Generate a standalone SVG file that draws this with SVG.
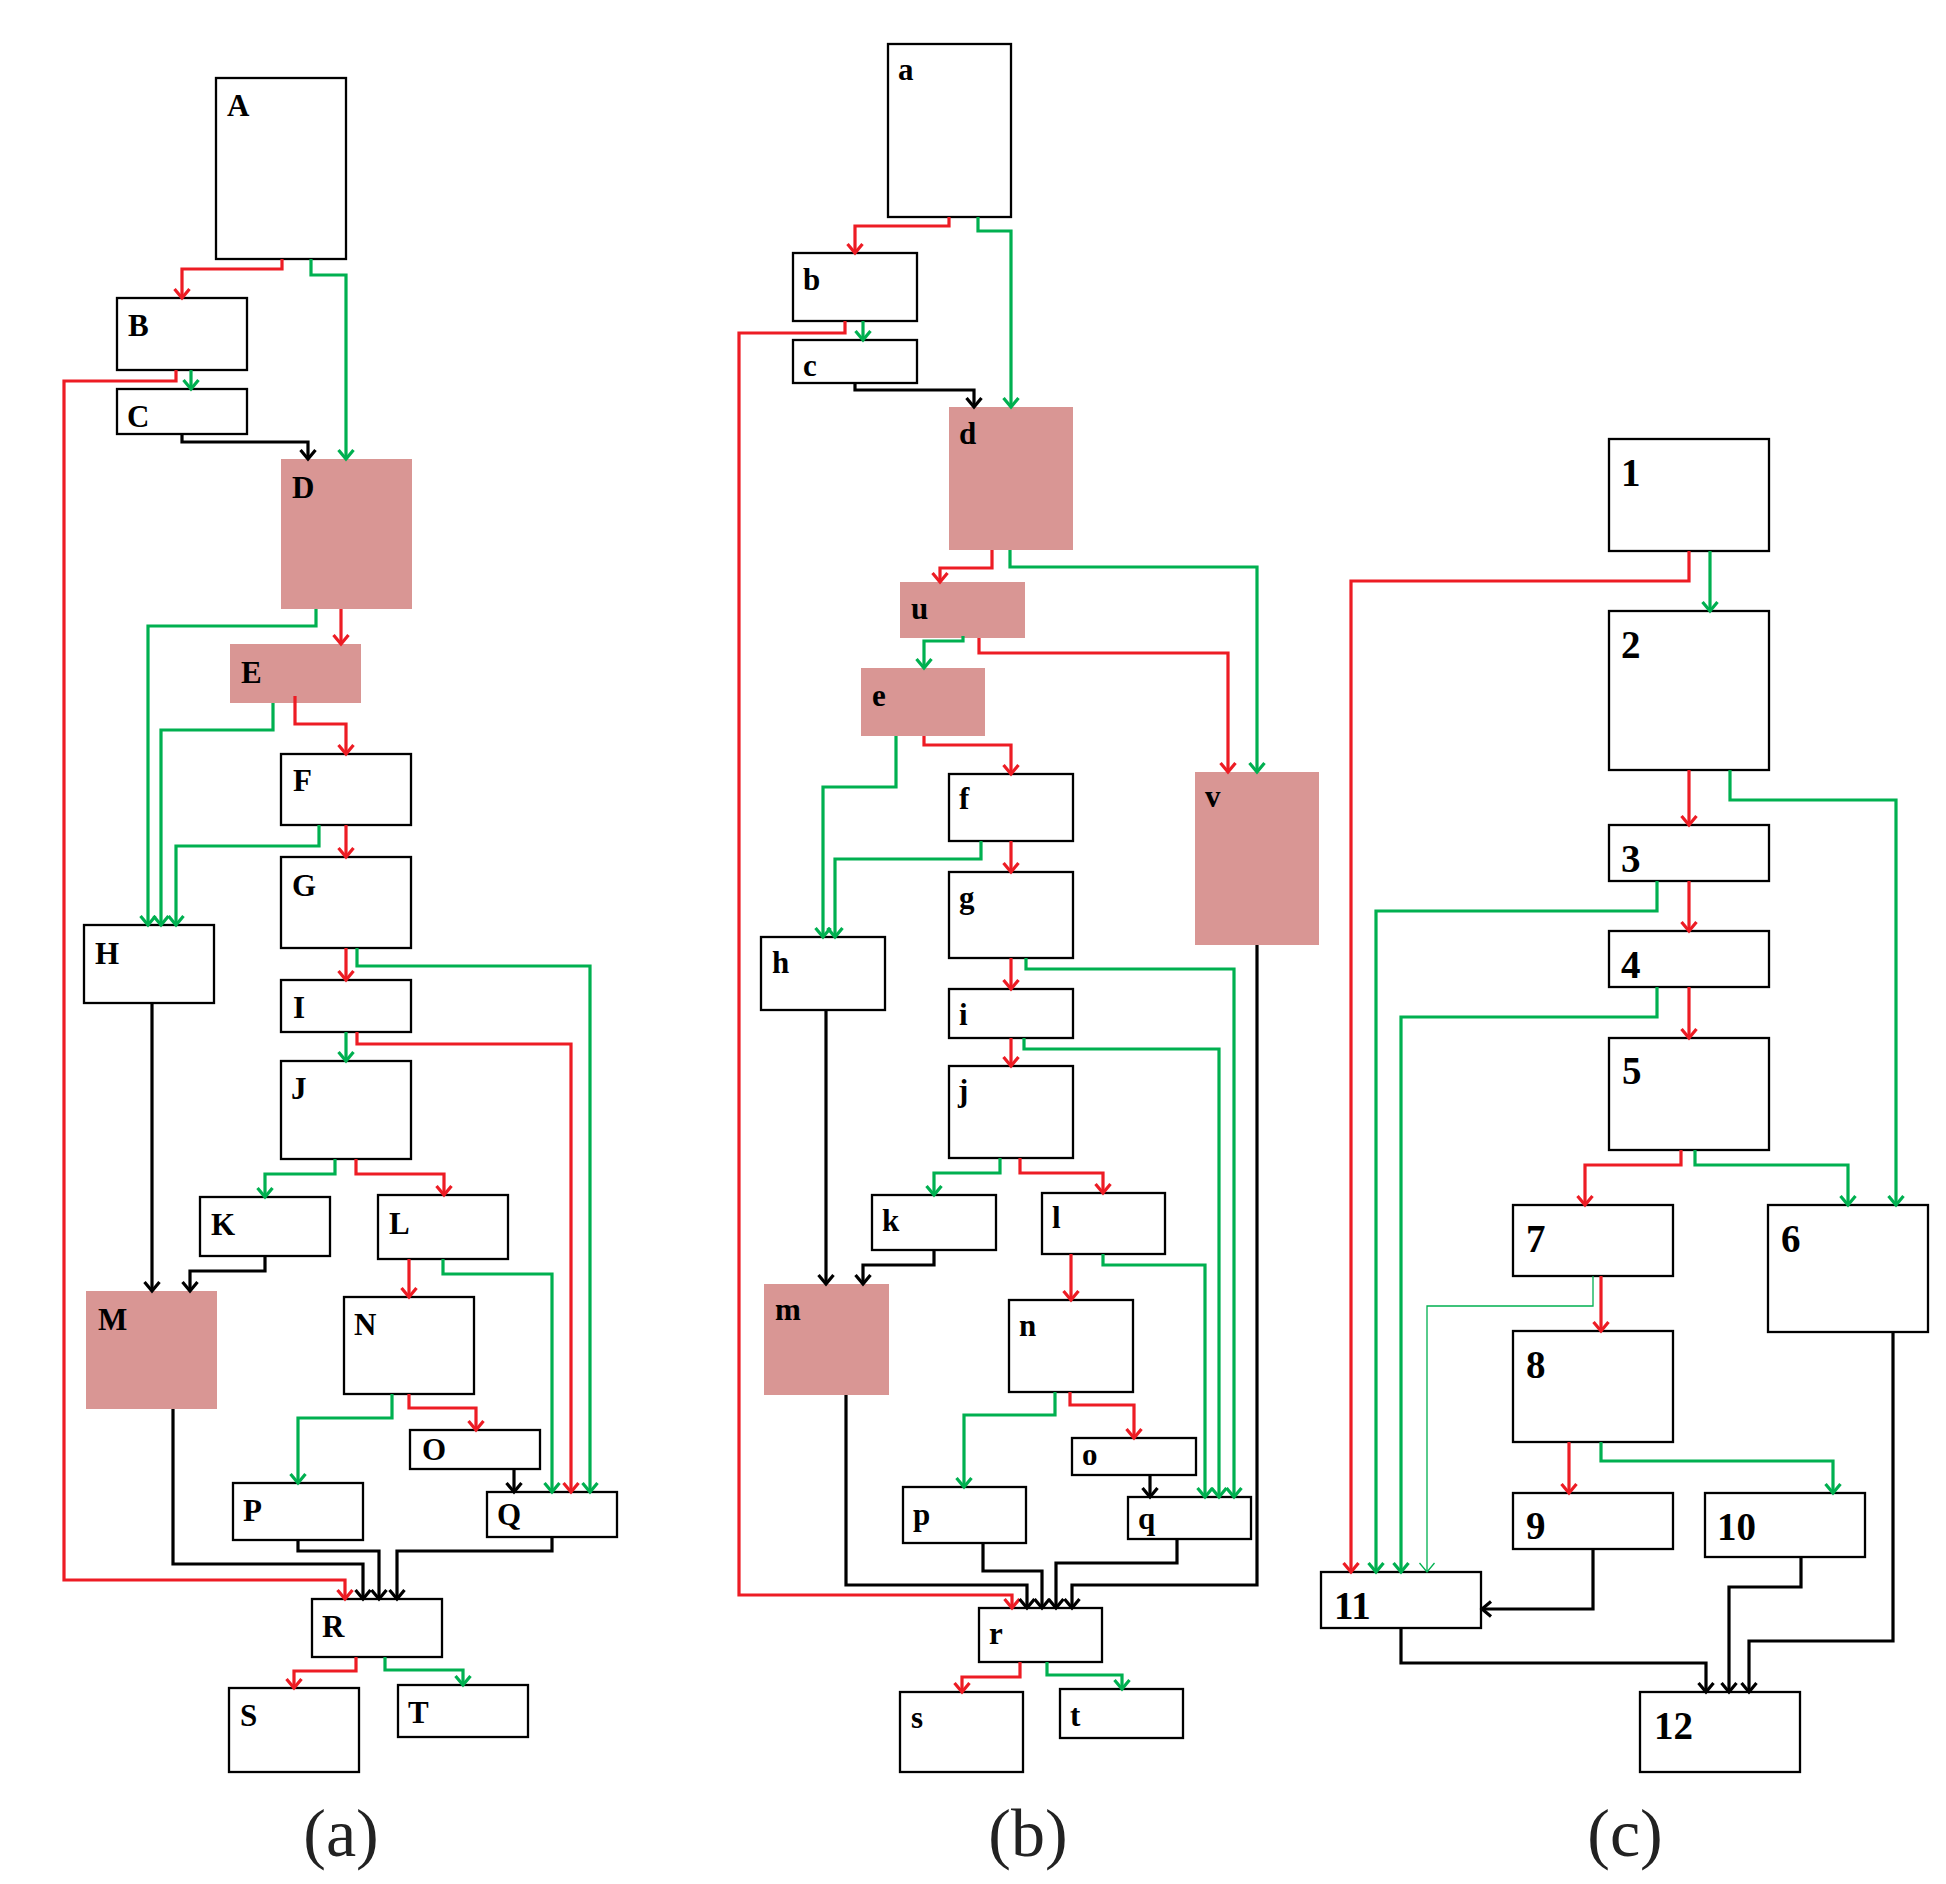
<svg xmlns="http://www.w3.org/2000/svg" width="1946" height="1884" viewBox="0 0 1946 1884">
  <style>
    .box { fill: #ffffff; stroke: #000000; stroke-width: 2.3; }
    .hot { fill: #D99694; stroke: none; }
    .lbl { font-family: "Liberation Serif", "Times New Roman", serif; font-weight: bold; font-size: 31px; fill: #000; }
    .num { font-size: 39px; }
    .cap { font-family: "Liberation Serif", "Times New Roman", serif; font-size: 68px; fill: #222; text-anchor: middle; }
    .e { fill: none; stroke-width: 3.2; stroke-linejoin: miter; }
    .r { stroke: #ED1C24; marker-end: url(#mr); }
    .g { stroke: #00B050; marker-end: url(#mg); }
    .k { stroke: #000000; marker-end: url(#mk); }
    .gt { stroke: #00B050; stroke-width: 1.3; marker-end: url(#mgt); }
  </style>
  <defs>
    <marker id="mr" viewBox="-12 -12 24 24" markerWidth="24" markerHeight="24" markerUnits="userSpaceOnUse" refX="0" refY="0" orient="auto">
      <path d="M-9,-7.5 L0,0 L-9,7.5" fill="none" stroke="#ED1C24" stroke-width="3.2"/>
    </marker>
    <marker id="mg" viewBox="-12 -12 24 24" markerWidth="24" markerHeight="24" markerUnits="userSpaceOnUse" refX="0" refY="0" orient="auto">
      <path d="M-9,-7.5 L0,0 L-9,7.5" fill="none" stroke="#00B050" stroke-width="3.2"/>
    </marker>
    <marker id="mk" viewBox="-12 -12 24 24" markerWidth="24" markerHeight="24" markerUnits="userSpaceOnUse" refX="0" refY="0" orient="auto">
      <path d="M-9,-7.5 L0,0 L-9,7.5" fill="none" stroke="#000000" stroke-width="3.2"/>
    </marker>
    <marker id="mgt" viewBox="-12 -12 24 24" markerWidth="24" markerHeight="24" markerUnits="userSpaceOnUse" refX="0" refY="0" orient="auto">
      <path d="M-9,-7.5 L0,0 L-9,7.5" fill="none" stroke="#00B050" stroke-width="1.3"/>
    </marker>
  </defs>

  <rect width="1946" height="1884" fill="#ffffff"/>

  <!-- panel (a) nodes -->
  <g id="node-A"><rect class="box" x="216" y="78" width="130" height="181"/><text class="lbl" x="227" y="116">A</text></g>
  <g id="node-B"><rect class="box" x="117" y="298" width="130" height="72"/><text class="lbl" x="128" y="336">B</text></g>
  <g id="node-C"><rect class="box" x="117" y="389" width="130" height="45"/><text class="lbl" x="127" y="427">C</text></g>
  <g id="node-D"><rect class="hot" x="281" y="459" width="131" height="150"/><text class="lbl" x="292" y="498">D</text></g>
  <g id="node-E"><rect class="hot" x="230" y="644" width="131" height="59"/><text class="lbl" x="241" y="683">E</text></g>
  <g id="node-F"><rect class="box" x="281" y="754" width="130" height="71"/><text class="lbl" x="293" y="791">F</text></g>
  <g id="node-G"><rect class="box" x="281" y="857" width="130" height="91"/><text class="lbl" x="292" y="896">G</text></g>
  <g id="node-H"><rect class="box" x="84" y="925" width="130" height="78"/><text class="lbl" x="95" y="964">H</text></g>
  <g id="node-I"><rect class="box" x="281" y="980" width="130" height="52"/><text class="lbl" x="293" y="1018">I</text></g>
  <g id="node-J"><rect class="box" x="281" y="1061" width="130" height="98"/><text class="lbl" x="291" y="1099">J</text></g>
  <g id="node-K"><rect class="box" x="200" y="1197" width="130" height="59"/><text class="lbl" x="211" y="1235">K</text></g>
  <g id="node-L"><rect class="box" x="378" y="1195" width="130" height="64"/><text class="lbl" x="389" y="1234">L</text></g>
  <g id="node-M"><rect class="hot" x="86" y="1291" width="131" height="118"/><text class="lbl" x="98" y="1330">M</text></g>
  <g id="node-N"><rect class="box" x="344" y="1297" width="130" height="97"/><text class="lbl" x="354" y="1335">N</text></g>
  <g id="node-O"><rect class="box" x="410" y="1430" width="130" height="39"/><text class="lbl" x="422" y="1460">O</text></g>
  <g id="node-P"><rect class="box" x="233" y="1483" width="130" height="57"/><text class="lbl" x="243" y="1521">P</text></g>
  <g id="node-Q"><rect class="box" x="487" y="1492" width="130" height="45"/><text class="lbl" x="497" y="1525">Q</text></g>
  <g id="node-R"><rect class="box" x="312" y="1599" width="130" height="58"/><text class="lbl" x="322" y="1637">R</text></g>
  <g id="node-S"><rect class="box" x="229" y="1688" width="130" height="84"/><text class="lbl" x="240" y="1726">S</text></g>
  <g id="node-T"><rect class="box" x="398" y="1685" width="130" height="52"/><text class="lbl" x="408" y="1723">T</text></g>

  <!-- panel (b) nodes -->
  <g id="node-a"><rect class="box" x="888" y="44" width="123" height="173"/><text class="lbl" x="898" y="80">a</text></g>
  <g id="node-b"><rect class="box" x="793" y="253" width="124" height="68"/><text class="lbl" x="803" y="290">b</text></g>
  <g id="node-c"><rect class="box" x="793" y="340" width="124" height="43"/><text class="lbl" x="803" y="376">c</text></g>
  <g id="node-d"><rect class="hot" x="949" y="407" width="124" height="143"/><text class="lbl" x="959" y="444">d</text></g>
  <g id="node-u"><rect class="hot" x="900" y="582" width="125" height="56"/><text class="lbl" x="911" y="619">u</text></g>
  <g id="node-e"><rect class="hot" x="861" y="668" width="124" height="68"/><text class="lbl" x="872" y="706">e</text></g>
  <g id="node-f"><rect class="box" x="949" y="774" width="124" height="67"/><text class="lbl" x="959" y="809">f</text></g>
  <g id="node-g"><rect class="box" x="949" y="872" width="124" height="86"/><text class="lbl" x="959" y="908">g</text></g>
  <g id="node-h"><rect class="box" x="761" y="937" width="124" height="73"/><text class="lbl" x="772" y="973">h</text></g>
  <g id="node-i"><rect class="box" x="949" y="989" width="124" height="49"/><text class="lbl" x="959" y="1025">i</text></g>
  <g id="node-j"><rect class="box" x="949" y="1066" width="124" height="92"/><text class="lbl" x="958" y="1101">j</text></g>
  <g id="node-k"><rect class="box" x="872" y="1195" width="124" height="55"/><text class="lbl" x="882" y="1231">k</text></g>
  <g id="node-l"><rect class="box" x="1042" y="1193" width="123" height="61"/><text class="lbl" x="1052" y="1228">l</text></g>
  <g id="node-v"><rect class="hot" x="1195" y="772" width="124" height="173"/><text class="lbl" x="1205" y="807">v</text></g>
  <g id="node-m"><rect class="hot" x="764" y="1284" width="125" height="111"/><text class="lbl" x="775" y="1320">m</text></g>
  <g id="node-n"><rect class="box" x="1009" y="1300" width="124" height="92"/><text class="lbl" x="1019" y="1336">n</text></g>
  <g id="node-o"><rect class="box" x="1072" y="1438" width="124" height="37"/><text class="lbl" x="1082" y="1465">o</text></g>
  <g id="node-p"><rect class="box" x="903" y="1487" width="123" height="56"/><text class="lbl" x="913" y="1525">p</text></g>
  <g id="node-q"><rect class="box" x="1128" y="1497" width="123" height="42"/><text class="lbl" x="1138" y="1529">q</text></g>
  <g id="node-r"><rect class="box" x="979" y="1608" width="123" height="54"/><text class="lbl" x="989" y="1644">r</text></g>
  <g id="node-s"><rect class="box" x="900" y="1692" width="123" height="80"/><text class="lbl" x="911" y="1728">s</text></g>
  <g id="node-t"><rect class="box" x="1060" y="1689" width="123" height="49"/><text class="lbl" x="1070" y="1726">t</text></g>

  <!-- panel (c) nodes -->
  <g id="node-1"><rect class="box" x="1609" y="439" width="160" height="112"/><text class="lbl num" x="1621" y="486">1</text></g>
  <g id="node-2"><rect class="box" x="1609" y="611" width="160" height="159"/><text class="lbl num" x="1621" y="658">2</text></g>
  <g id="node-3"><rect class="box" x="1609" y="825" width="160" height="56"/><text class="lbl num" x="1621" y="872">3</text></g>
  <g id="node-4"><rect class="box" x="1609" y="931" width="160" height="56"/><text class="lbl num" x="1621" y="978">4</text></g>
  <g id="node-5"><rect class="box" x="1609" y="1038" width="160" height="112"/><text class="lbl num" x="1622" y="1084">5</text></g>
  <g id="node-6"><rect class="box" x="1768" y="1205" width="160" height="127"/><text class="lbl num" x="1781" y="1252">6</text></g>
  <g id="node-7"><rect class="box" x="1513" y="1205" width="160" height="71"/><text class="lbl num" x="1526" y="1252">7</text></g>
  <g id="node-8"><rect class="box" x="1513" y="1331" width="160" height="111"/><text class="lbl num" x="1526" y="1378">8</text></g>
  <g id="node-9"><rect class="box" x="1513" y="1493" width="160" height="56"/><text class="lbl num" x="1526" y="1539">9</text></g>
  <g id="node-10"><rect class="box" x="1705" y="1493" width="160" height="64"/><text class="lbl num" x="1717" y="1540">10</text></g>
  <g id="node-11"><rect class="box" x="1321" y="1572" width="160" height="56"/><text class="lbl num" x="1334" y="1619">11</text></g>
  <g id="node-12"><rect class="box" x="1640" y="1692" width="160" height="80"/><text class="lbl num" x="1654" y="1739">12</text></g>

  <!-- connectors -->
  <g id="connectors">
    <!-- (a) -->
    <path class="e r" d="M282,259 V269 H182 V298"/>
    <path class="e g" d="M311,259 V275 H346 V459"/>
    <path class="e g" d="M191,370 V389"/>
    <path class="e r" d="M176,370 V381 H64 V1580 H345 V1599"/>
    <path class="e k" d="M182,434 V442 H308 V459"/>
    <path class="e r" d="M341,609 V644"/>
    <path class="e g" d="M316,609 V626 H148 V925"/>
    <path class="e g" d="M273,703 V730 H161 V925"/>
    <path class="e r" d="M295,696 V724 H346 V754"/>
    <path class="e r" d="M346,825 V857"/>
    <path class="e g" d="M319,825 V846 H176 V925"/>
    <path class="e r" d="M346,948 V980"/>
    <path class="e g" d="M357,948 V966 H590 V1492"/>
    <path class="e g" d="M346,1032 V1061"/>
    <path class="e r" d="M357,1032 V1044 H571 V1492"/>
    <path class="e g" d="M335,1159 V1174 H265 V1197"/>
    <path class="e r" d="M356,1159 V1174 H444 V1195"/>
    <path class="e k" d="M152,1003 V1291"/>
    <path class="e k" d="M265,1256 V1271 H190 V1291"/>
    <path class="e r" d="M409,1259 V1297"/>
    <path class="e g" d="M443,1259 V1274 H552 V1492"/>
    <path class="e g" d="M392,1394 V1418 H298 V1483"/>
    <path class="e r" d="M409,1394 V1408 H476 V1430"/>
    <path class="e k" d="M514,1469 V1492"/>
    <path class="e k" d="M173,1409 V1564 H363 V1599"/>
    <path class="e k" d="M298,1540 V1551 H379 V1599"/>
    <path class="e k" d="M552,1537 V1551 H397 V1599"/>
    <path class="e r" d="M356,1657 V1671 H294 V1688"/>
    <path class="e g" d="M385,1657 V1670 H463 V1685"/>

    <!-- (b) -->
    <path class="e r" d="M949,217 V226 H855 V253"/>
    <path class="e g" d="M978,217 V231 H1011 V407"/>
    <path class="e g" d="M863,321 V340"/>
    <path class="e r" d="M845,321 V333 H739 V1595 H1012 V1608"/>
    <path class="e k" d="M855,383 V390 H974 V407"/>
    <path class="e r" d="M992,550 V568 H940 V582"/>
    <path class="e g" d="M1010,550 V567 H1257 V772"/>
    <path class="e g" d="M963,636 V641 H924 V668"/>
    <path class="e r" d="M979,638 V653 H1228 V772"/>
    <path class="e r" d="M924,736 V745 H1011 V774"/>
    <path class="e g" d="M896,736 V787 H823 V937"/>
    <path class="e r" d="M1011,841 V872"/>
    <path class="e g" d="M981,841 V859 H835 V937"/>
    <path class="e r" d="M1011,958 V989"/>
    <path class="e g" d="M1026,958 V969 H1234 V1497"/>
    <path class="e r" d="M1011,1038 V1066"/>
    <path class="e g" d="M1024,1038 V1049 H1219 V1497"/>
    <path class="e g" d="M1000,1158 V1173 H934 V1195"/>
    <path class="e r" d="M1020,1158 V1173 H1103 V1193"/>
    <path class="e k" d="M826,1010 V1284"/>
    <path class="e k" d="M1257,945 V1585 H1072 V1608"/>
    <path class="e k" d="M934,1250 V1265 H863 V1284"/>
    <path class="e r" d="M1071,1254 V1300"/>
    <path class="e g" d="M1103,1254 V1265 H1205 V1497"/>
    <path class="e g" d="M1055,1392 V1415 H964 V1487"/>
    <path class="e r" d="M1070,1392 V1405 H1134 V1438"/>
    <path class="e k" d="M1150,1475 V1497"/>
    <path class="e k" d="M846,1395 V1585 H1027 V1608"/>
    <path class="e k" d="M983,1543 V1571 H1042 V1608"/>
    <path class="e k" d="M1177,1539 V1563 H1056 V1608"/>
    <path class="e r" d="M1020,1662 V1677 H962 V1692"/>
    <path class="e g" d="M1047,1662 V1675 H1122 V1689"/>

    <!-- (c) -->
    <path class="e g" d="M1710,551 V611"/>
    <path class="e r" d="M1689,551 V581 H1351 V1572"/>
    <path class="e r" d="M1689,770 V825"/>
    <path class="e g" d="M1730,770 V800 H1896 V1205"/>
    <path class="e r" d="M1689,881 V931"/>
    <path class="e g" d="M1657,881 V911 H1376 V1572"/>
    <path class="e r" d="M1689,987 V1038"/>
    <path class="e g" d="M1657,987 V1017 H1401 V1572"/>
    <path class="e r" d="M1681,1150 V1165 H1585 V1205"/>
    <path class="e g" d="M1695,1150 V1165 H1848 V1205"/>
    <path class="e r" d="M1601,1276 V1331"/>
    <path class="e gt" d="M1593,1276 V1306 H1427 V1572"/>
    <path class="e r" d="M1569,1442 V1493"/>
    <path class="e g" d="M1601,1442 V1461 H1833 V1493"/>
    <path class="e k" d="M1593,1549 V1609 H1482"/>
    <path class="e k" d="M1401,1628 V1663 H1706 V1692"/>
    <path class="e k" d="M1801,1557 V1587 H1729 V1692"/>
    <path class="e k" d="M1893,1332 V1641 H1749 V1692"/>
  </g>

  <!-- panel captions -->
  <text class="cap" x="341" y="1856">(a)</text>
  <text class="cap" x="1028" y="1856">(b)</text>
  <text class="cap" x="1625" y="1856">(c)</text>
</svg>
